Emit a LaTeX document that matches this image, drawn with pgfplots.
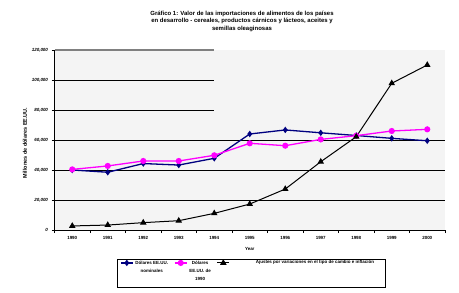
\documentclass[border=0pt]{standalone}
\usepackage{fontspec}
\setmainfont{Liberation Sans}
\usepackage{pgfplots}
\pgfplotsset{compat=1.18}
\definecolor{navyline}{RGB}{0,0,128}
\definecolor{magline}{RGB}{255,0,255}
\definecolor{plotbg}{RGB}{244,244,244}
\newcommand{\ticksize}{\fontsize{4.5}{5}\selectfont\bfseries}

\begin{document}
\begin{tikzpicture}
\useasboundingbox (0bp,0bp) rectangle (459bp,293bp);
\node[align=center, font=\fontsize{6}{7.5}\selectfont\bfseries] at (242bp,272bp)
  {Gráfico 1: Valor de las importaciones de alimentos de los países\\
   en desarrollo - cereales, productos cárnicos y lácteos, aceites y\\
   semillas oleaginosas};
\node[rotate=90, font=\fontsize{5.5}{6}\selectfont\bfseries] at (25bp,150bp) {Millones de dólares EE.UU.};
\begin{axis}[
  at={(54.5bp,63bp)}, anchor=south west, scale only axis,
  width=390.5bp, height=180bp,
  xmin=1989.5, xmax=2000.5, ymin=0, ymax=120000,
  axis x line*=bottom, axis y line*=left,
  axis line style={-, black, line width=0.8bp},
  axis background/.style={fill=plotbg},
  xtick={1989.5,1990.5,...,2000.5},
  xticklabels={1990,1991,1992,1993,1994,1995,1996,1997,1998,1999,2000},
  x tick label as interval,
  ytick={0,20000,40000,60000,80000,100000,120000},
  yticklabels={0,{20,000},{40,000},{60,000},{80,000},{100,000},{120,000}},
  scaled y ticks=false,
  tick align=outside, major tick length=3bp,
  tick style={black, line width=0.6bp},
  xticklabel style={font=\ticksize},
  yticklabel style={font=\ticksize\itshape},
  xlabel={Year},
  xlabel style={font=\ticksize, yshift=-1bp},
  legend columns=3,
  legend cell align=left,
  legend style={at={(0.16,-0.14)}, anchor=north west, draw=none, fill=none,
    font=\fontsize{4.5}{8}\selectfont\bfseries, inner ysep=2bp,
    /tikz/every even column/.append style={column sep=4bp}},
  legend image code/.code={\draw[mark repeat=2,mark phase=2,#1] plot coordinates {(0bp,0bp)(6bp,0bp)(12bp,0bp)};},
]
\draw[black, line width=0.8bp] (axis cs:1989.5,20000) -- (axis cs:2000.5,20000);
\draw[black, line width=0.8bp] (axis cs:1989.5,40000) -- (axis cs:2000.5,40000);
\draw[black, line width=0.8bp] (axis cs:1989.5,60000) -- (axis cs:2000.5,60000);
\draw[black, line width=0.8bp] (axis cs:1989.5,80000) -- (axis cs:1994,80000);
\draw[black, line width=0.8bp] (axis cs:1989.5,100000) -- (axis cs:1994,100000);
\draw[gray, line width=1.6bp] (axis cs:1989.5,120000) -- (axis cs:1994,120000);

\addplot[navyline, line width=1.3bp, mark=diamond*, mark size=2.2bp]
  coordinates {(1990,40000)(1991,38500)(1992,44300)(1993,43300)(1994,47800)(1995,64000)
               (1996,66700)(1997,64800)(1998,63000)(1999,61100)(2000,59500)};
\addlegendentry{\begin{tabular}[t]{@{}c@{}}Dólares EE.UU.\\nominales\end{tabular}}
\addplot[magline, line width=1.3bp, mark=*, mark size=2.4bp]
  coordinates {(1990,40400)(1991,42700)(1992,46000)(1993,46000)(1994,49800)(1995,57800)
               (1996,56200)(1997,60400)(1998,62900)(1999,66000)(2000,67100)};
\addlegendentry{\begin{tabular}[t]{@{}c@{}}Dólares\\EE.UU. de\\1990\end{tabular}}
\addplot[black, line width=1bp, mark=triangle*, mark size=2.8bp]
  coordinates {(1990,2700)(1991,3300)(1992,4900)(1993,6200)(1994,11100)(1995,17300)
               (1996,27300)(1997,45500)(1998,62200)(1999,97800)(2000,110000)};
\addlegendentry{\hspace{24bp}Ajustes por variaciones en el tipo de cambio e inflación\hspace{4bp}}
\end{axis}
\draw[black, line width=0.8bp] (117bp,6bp) rectangle (385bp,34bp);
\end{tikzpicture}
\end{document}
